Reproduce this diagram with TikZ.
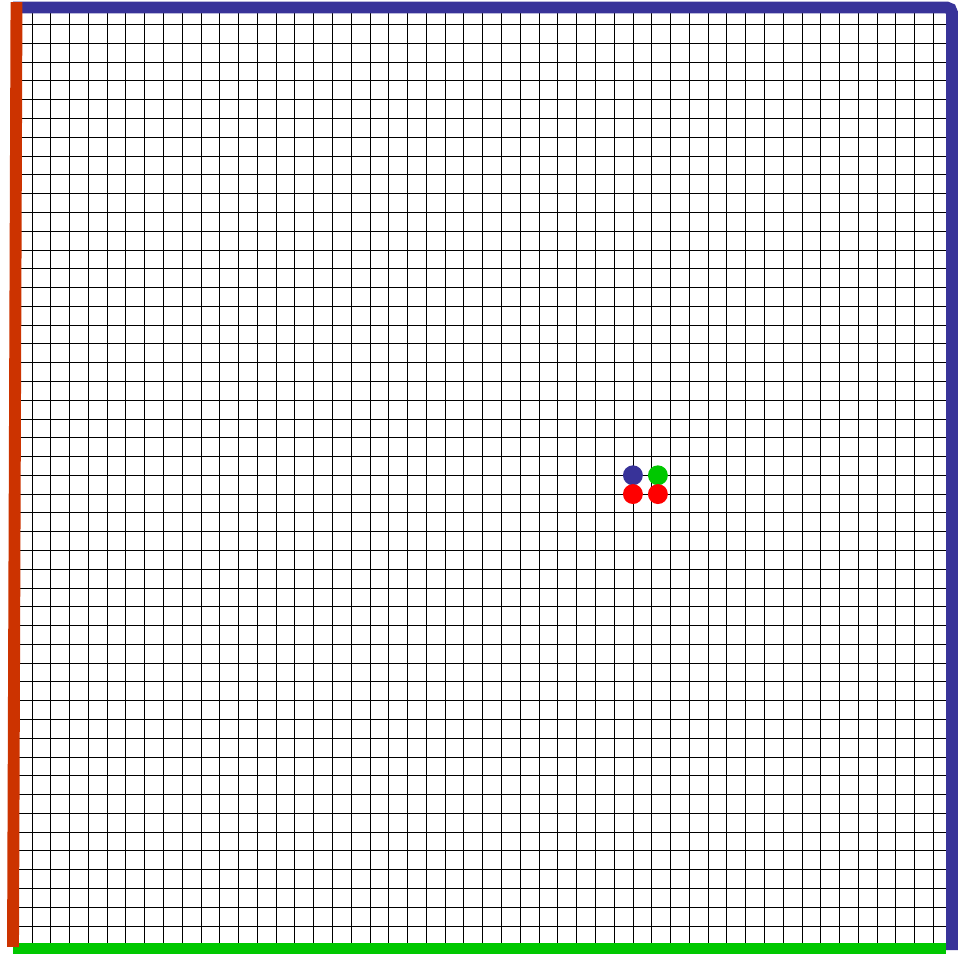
\documentclass[tikz,border=0pt]{standalone}
\usepackage{xcolor}
\usepackage{tikz}
\definecolor{wallred}{HTML}{CC3300}
\definecolor{wallblue}{HTML}{383399}
\definecolor{wallgreen}{HTML}{00C800}
\tikzset{
  wall/.style={line width=9pt},
  dot/.style={circle, fill=#1, inner sep=0pt, minimum size=0.53cm}
}

\begin{document}
\begin{tikzpicture}[scale=0.5]
\useasboundingbox (-0.703,-0.49) rectangle (50.31,50.31);
\draw[black, line width=0.65pt, step=1] (0,0) grid (50,50);
\draw[wall, wallgreen] (0,-0.22) -- (49.67,-0.22);
\draw[wall, wallblue, rounded corners=4pt] (0,49.91) -- (49.99,49.91) -- (49.99,-0.28);
\draw[wall, wallred] (0.176,50.2) -- (-0.01,-0.117);
\foreach \name/\x/\y/\col in {b/33/25/wallblue, g/34.33/25/wallgreen, r1/33/24/red, r2/34.33/24/red} {
  \node[dot=\col] (\name) at (\x,\y) {};
}
\end{tikzpicture}
\end{document}
